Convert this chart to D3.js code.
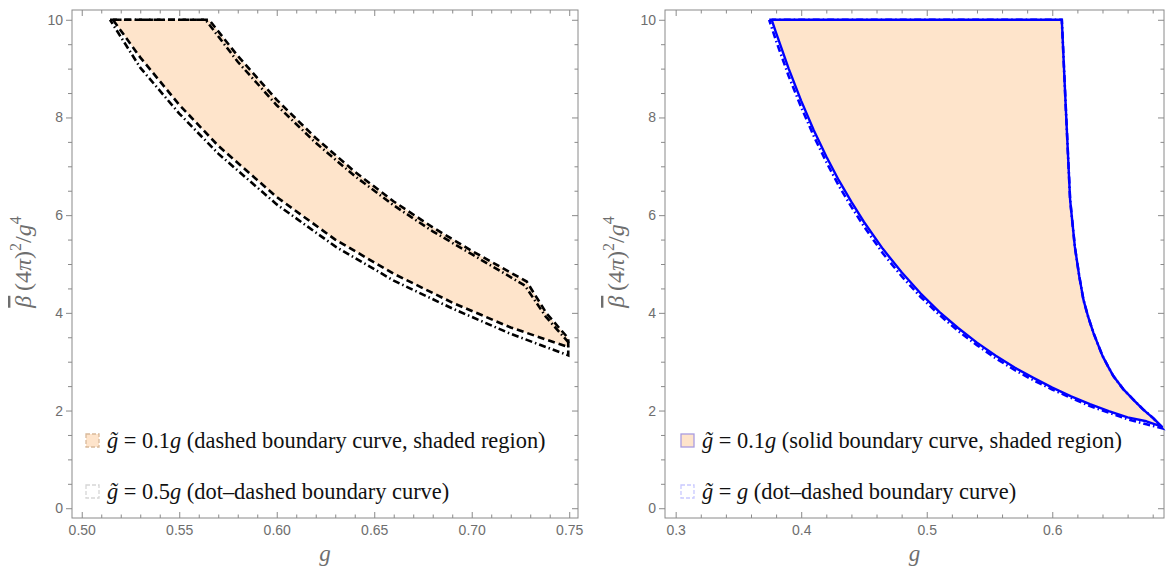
<!DOCTYPE html>
<html>
<head>
<meta charset="utf-8">
<script src="https://d3js.org/d3.v7.min.js"></script>
<style>
  body { margin: 0; background: #fff; }
  .frame { fill: none; stroke: #8a8a8a; stroke-width: 1; }
  .axis path { display: none; }
  .axis line { stroke: #8a8a8a; }
  .axis text { fill: #6e6e6e; font-family: "Liberation Sans", Arial, sans-serif; font-size: 14px; }
  .serif { font-family: "Liberation Serif", "Times New Roman", serif; }
</style>
</head>
<body>
<svg id="chart" width="1166" height="570"></svg>
<script>
// ---- data ----
// left panel, g~ = 0.1 g (dashed, shaded) : closed outline
const leftShadedG = [0.516, 0.5653, 0.58, 0.60, 0.62, 0.64, 0.66, 0.68, 0.70, 0.7282, 0.7385, 0.7495,
                     0.7495, 0.72, 0.69, 0.66, 0.63, 0.60, 0.57, 0.55, 0.53, 0.516]
const leftShadedV = [10, 10, 9.26, 8.36, 7.58, 6.89, 6.28, 5.75, 5.27, 4.64, 3.98, 3.48,
                     3.30, 3.70, 4.21, 4.80, 5.50, 6.37, 7.42, 8.26, 9.23, 10]
// left panel, g~ = 0.5 g (dot-dashed)
const leftDotG = [0.5145, 0.5635, 0.58, 0.60, 0.62, 0.64, 0.66, 0.68, 0.70, 0.7272, 0.738, 0.7495,
                  0.7495, 0.72, 0.69, 0.66, 0.63, 0.60, 0.57, 0.55, 0.53, 0.5145]
const leftDotV = [10, 10, 9.14, 8.25, 7.48, 6.80, 6.20, 5.67, 5.20, 4.56, 3.92, 3.40,
                  3.13, 3.57, 4.09, 4.66, 5.36, 6.22, 7.26, 8.08, 9.02, 10]
// right panel, g~ = 0.1 g (solid, shaded)
const rightShadedG = [0.3765, 0.6076, 0.6105, 0.6142, 0.618, 0.6215, 0.6248, 0.6288, 0.6328, 0.640, 0.6445, 0.6488,
                      0.6565, 0.6647, 0.6725, 0.6806, 0.6873,
                      0.675, 0.66, 0.645, 0.63, 0.615, 0.60, 0.585, 0.57, 0.555, 0.54, 0.525, 0.51, 0.495,
                      0.48, 0.465, 0.45, 0.44, 0.43, 0.42, 0.41, 0.40, 0.39, 0.38, 0.3765]
const rightShadedV = [10, 10, 8.35, 6.32, 5.35, 4.75, 4.27, 3.90, 3.59, 3.12, 2.90, 2.70,
                      2.44, 2.22, 2.02, 1.84, 1.67,
                      1.78, 1.86, 1.99, 2.13, 2.29, 2.47, 2.67, 2.88, 3.12, 3.39, 3.69, 4.02, 4.40,
                      4.83, 5.31, 5.86, 6.27, 6.71, 7.20, 7.74, 8.34, 9.00, 9.73, 10]
// right panel, g~ = g (dot-dashed)
const rightDotG = [0.3745, 0.6076, 0.6105, 0.6142, 0.618, 0.6215, 0.6248, 0.6288, 0.6328, 0.640, 0.6445, 0.6488,
                   0.6565, 0.6647, 0.6725, 0.6806, 0.6873,
                   0.675, 0.66, 0.645, 0.63, 0.615, 0.60, 0.585, 0.57, 0.555, 0.54, 0.525, 0.51, 0.495,
                   0.48, 0.465, 0.45, 0.44, 0.43, 0.42, 0.41, 0.40, 0.39, 0.38, 0.3745]
const rightDotV = [10, 10, 8.35, 6.32, 5.35, 4.75, 4.27, 3.90, 3.59, 3.12, 2.90, 2.70,
                   2.44, 2.22, 2.02, 1.84, 1.64,
                   1.72, 1.82, 1.96, 2.09, 2.26, 2.43, 2.62, 2.83, 3.07, 3.34, 3.63, 3.96, 4.33,
                   4.75, 5.22, 5.77, 6.17, 6.60, 7.09, 7.62, 8.21, 8.85, 9.57, 10]

const yTicks = [0, 2, 4, 6, 8, 10]
const leftXTicks = [0.50, 0.55, 0.60, 0.65, 0.70, 0.75]
const rightXTicks = [0.3, 0.4, 0.5, 0.6]

const svg = d3.select("#chart")
const shade = "#fee4cb"

const y = d3.scaleLinear().domain([-0.2, 10.2]).range([518, 10])
const xL = d3.scaleLinear().domain([0.495, 0.7545]).range([72, 578])
const xR = d3.scaleLinear().domain([0.2915, 0.689]).range([665, 1164])

function minorTicks(lo, hi, step) {
  let out = []
  for (let i = Math.ceil(lo / step - 1e-9); i * step <= hi + 1e-9; i++) out.push(+(i * step).toFixed(4))
  return out
}

function panel(x, xTicks, xFmt, xStep) {
  const [x0, x1] = x.range(), [y0, y1] = y.range()
  const g = svg.append("g")
  const xMinor = minorTicks(x.domain()[0], x.domain()[1], xStep).filter(v => !xTicks.some(t => Math.abs(t - v) < 1e-6))
  const yMinor = minorTicks(-0.2, 10.2, 0.5).filter(v => !yTicks.includes(v))

  // bottom
  g.append("g").attr("class", "axis").attr("transform", `translate(0,${y0})`)
    .call(d3.axisBottom(x).tickValues(xTicks).tickFormat(xFmt).tickSizeInner(-6).tickSizeOuter(0).tickPadding(7))
  g.append("g").attr("class", "axis").attr("transform", `translate(0,${y0})`)
    .call(d3.axisBottom(x).tickValues(xMinor).tickFormat("").tickSizeInner(-3.5).tickSizeOuter(0))
  // top
  g.append("g").attr("class", "axis").attr("transform", `translate(0,${y1})`)
    .call(d3.axisTop(x).tickValues(xTicks).tickFormat("").tickSizeInner(-6).tickSizeOuter(0))
  g.append("g").attr("class", "axis").attr("transform", `translate(0,${y1})`)
    .call(d3.axisTop(x).tickValues(xMinor).tickFormat("").tickSizeInner(-3.5).tickSizeOuter(0))
  // left (ticks outward)
  g.append("g").attr("class", "axis").attr("transform", `translate(${x0},0)`)
    .call(d3.axisLeft(y).tickValues(yTicks).tickSizeInner(6).tickSizeOuter(0).tickPadding(3))
  g.append("g").attr("class", "axis").attr("transform", `translate(${x0},0)`)
    .call(d3.axisLeft(y).tickValues(yMinor).tickFormat("").tickSizeInner(4).tickSizeOuter(0))
  // right
  g.append("g").attr("class", "axis").attr("transform", `translate(${x1},0)`)
    .call(d3.axisRight(y).tickValues(yTicks).tickFormat("").tickSizeInner(-6).tickSizeOuter(0))
  g.append("g").attr("class", "axis").attr("transform", `translate(${x1},0)`)
    .call(d3.axisRight(y).tickValues(yMinor).tickFormat("").tickSizeInner(-3.5).tickSizeOuter(0))

  g.append("rect").attr("class", "frame")
    .attr("x", x0).attr("y", y1).attr("width", x1 - x0).attr("height", y0 - y1)

  // axis titles
  g.append("text").attr("class", "serif")
    .attr("x", (x0 + x1) / 2).attr("y", 561).attr("text-anchor", "middle")
    .style("font-size", "23px").style("font-style", "italic").attr("fill", "#6e6e6e").text("g")

  const yt = g.append("text").attr("class", "serif")
    .attr("transform", `translate(${x0 - 41},${(y0 + y1) / 2 - 2}) rotate(-90)`)
    .attr("text-anchor", "middle").style("font-size", "24px").attr("fill", "#6e6e6e")
  yt.append("tspan").style("font-style", "italic").style("text-decoration", "overline").text("\u03B2")
  yt.append("tspan").text("\u2009(4")
  yt.append("tspan").style("font-style", "italic").text("\u03C0")
  yt.append("tspan").text(")")
  yt.append("tspan").attr("dy", -10).style("font-size", "16px").text("2")
  yt.append("tspan").attr("dy", 10).text("/")
  yt.append("tspan").style("font-style", "italic").text("g")
  yt.append("tspan").attr("dy", -10).style("font-size", "16px").text("4")
  return g
}

panel(xL, leftXTicks, d3.format(".2f"), 0.01)
panel(xR, rightXTicks, d3.format(".1f"), 0.02)

function outline(x, gs, vs) {
  return d3.line().x(d => x(d[0])).y(d => y(d[1]))(gs.map((g, i) => [g, vs[i]]))
}

// left panel marks
svg.append("path").attr("d", outline(xL, leftShadedG, leftShadedV) + "Z").attr("fill", shade)
svg.append("path").attr("d", outline(xL, leftDotG, leftDotV))
  .attr("fill", "none").attr("stroke", "#000").attr("stroke-width", 2.6)
  .attr("stroke-dasharray", "7,3,1.5,3")
svg.append("path").attr("d", outline(xL, leftShadedG, leftShadedV))
  .attr("fill", "none").attr("stroke", "#000").attr("stroke-width", 2.6)
  .attr("stroke-dasharray", "7,4")

// right panel marks
svg.append("path").attr("d", outline(xR, rightShadedG, rightShadedV) + "Z").attr("fill", shade)
svg.append("path").attr("d", outline(xR, rightDotG, rightDotV))
  .attr("fill", "none").attr("stroke", "#0000ff").attr("stroke-width", 2.6)
  .attr("stroke-dasharray", "7,3,1.5,3")
svg.append("path").attr("d", outline(xR, rightShadedG, rightShadedV))
  .attr("fill", "none").attr("stroke", "#0000ff").attr("stroke-width", 2.4)
  .attr("stroke-linejoin", "round")

// legends
function legendRow(x0, yc, swFill, swStroke, swDash, parts) {
  svg.append("rect").attr("x", x0).attr("y", yc - 7).attr("width", 13).attr("height", 13)
    .attr("fill", swFill).attr("stroke", swStroke).attr("stroke-width", 1.3)
    .attr("stroke-dasharray", swDash)
  const t = svg.append("text").attr("class", "serif").attr("x", x0 + 21).attr("y", yc + 7)
    .style("font-size", "22.4px").attr("fill", "#111")
  parts.forEach(p => t.append("tspan").style("font-style", p[1] ? "italic" : "normal").text(p[0]))
}
legendRow(86, 441, shade, "#d9b99a", "4,2", [["g\u0303", 1], [" = 0.1", 0], ["g", 1], [" (dashed boundary curve, shaded region)", 0]])
legendRow(86, 492, "none", "#d6d6d6", "4,2", [["g\u0303", 1], [" = 0.5", 0], ["g", 1], [" (dot\u2013dashed boundary curve)", 0]])
legendRow(681, 441, shade, "#a99ce0", null, [["g\u0303", 1], [" = 0.1", 0], ["g", 1], [" (solid boundary curve, shaded region)", 0]])
legendRow(681, 492, "none", "#c9c9ff", "4,2", [["g\u0303", 1], [" = ", 0], ["g", 1], ["  (dot\u2013dashed boundary curve)", 0]])
</script>
</body>
</html>
